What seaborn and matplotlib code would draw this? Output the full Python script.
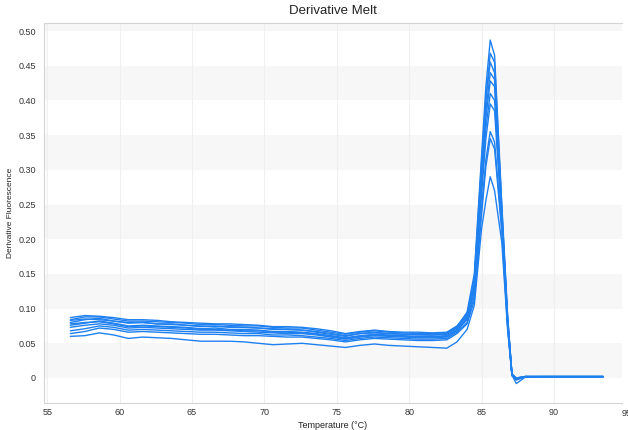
import matplotlib
matplotlib.use("Agg")
import matplotlib.pyplot as plt
import matplotlib.ticker as mticker
import seaborn as sns
import numpy as np
import pandas as pd

# ---- data ----
temps = [56.6, 57.6, 58.6, 59.6, 60.6, 61.6, 62.6, 63.6, 64.6, 65.6, 66.6, 67.6, 68.6,
         69.6, 70.6, 71.6, 72.6, 73.6, 74.6, 75.6, 76.6, 77.6, 78.6, 79.6, 80.6, 81.6,
         82.6, 83.3, 84.0, 84.5, 85.0, 85.3, 85.6, 85.9, 86.4, 86.8, 87.1, 87.4, 88.0,
         89.0, 90.0, 91.0, 92.0, 93.4]

curve_a = [.084, .088, .088, .085, .082, .082, .081, .080, .079, .077, .077, .076, .075,
           .075, .073, .072, .072, .069, .066, .063, .066, .068, .066, .065, .064, .064,
           .065, .074, .095, .150, .320, .420, .487, .465, .250, .090, .006, -.002, .002,
           .002, .002, .002, .002, .002]
curve_b = [.087, .090, .089, .087, .084, .084, .083, .081, .080, .079, .078, .078, .077,
           .076, .074, .074, .073, .071, .068, .064, .067, .069, .067, .066, .066, .065,
           .066, .075, .092, .140, .300, .400, .468, .455, .245, .088, .005, .000, .002,
           .002, .002, .002, .002, .002]
curve_c = [.080, .084, .086, .082, .079, .080, .078, .077, .076, .074, .075, .073, .073,
           .072, .070, .070, .069, .066, .063, .060, .064, .065, .064, .063, .062, .062,
           .063, .072, .090, .145, .310, .405, .455, .440, .240, .085, .004, -.003, .002,
           .002, .002, .002, .002, .002]
curve_d = [.083, .085, .084, .082, .080, .080, .078, .078, .076, .075, .074, .074, .073,
           .072, .071, .070, .069, .067, .064, .061, .064, .066, .064, .063, .063, .062,
           .064, .073, .088, .135, .290, .385, .440, .430, .235, .083, .006, .000, .002,
           .002, .002, .002, .002, .002]
curve_e = [.076, .079, .082, .079, .075, .076, .075, .074, .073, .071, .072, .070, .070,
           .069, .067, .067, .066, .064, .061, .058, .061, .063, .062, .061, .060, .060,
           .061, .070, .086, .130, .285, .375, .428, .420, .232, .082, .004, -.008, .001,
           .002, .002, .002, .002, .002]
curve_f = [.073, .076, .078, .076, .072, .073, .072, .071, .070, .069, .069, .068, .067,
           .066, .065, .064, .064, .062, .059, .056, .059, .061, .060, .059, .058, .058,
           .059, .068, .085, .128, .275, .360, .410, .400, .228, .080, .005, -.001, .002,
           .002, .002, .002, .002, .002]
curve_g = [.078, .080, .081, .078, .074, .075, .074, .073, .072, .070, .070, .069, .068,
           .068, .066, .066, .065, .063, .060, .057, .060, .062, .061, .060, .059, .059,
           .060, .069, .084, .125, .265, .345, .395, .385, .225, .078, .003, .000, .002,
           .002, .002, .002, .002, .002]
curve_h = [.068, .071, .075, .073, .069, .070, .069, .068, .067, .066, .066, .065, .064,
           .064, .062, .062, .061, .059, .057, .054, .057, .059, .058, .057, .056, .056,
           .057, .066, .080, .118, .245, .315, .355, .340, .215, .075, .004, -.002, .002,
           .002, .002, .002, .002, .002]
curve_i = [.064, .067, .072, .070, .066, .067, .066, .065, .064, .063, .063, .062, .061,
           .061, .060, .059, .059, .057, .055, .052, .055, .057, .056, .055, .054, .054,
           .055, .064, .078, .112, .235, .305, .345, .330, .210, .073, .004, -.001, .002,
           .002, .002, .002, .002, .002]
curve_j = [.060, .061, .065, .062, .057, .059, .058, .057, .055, .053, .053, .053, .052,
           .050, .048, .049, .050, .048, .046, .044, .047, .049, .047, .046, .045, .044,
           .043, .052, .070, .105, .215, .256, .290, .270, .195, .070, .005, -.002, .002,
           .002, .002, .002, .002, .002]

curves = {"A": curve_a, "B": curve_b, "C": curve_c, "D": curve_d, "E": curve_e,
          "F": curve_f, "G": curve_g, "H": curve_h, "I": curve_i, "J": curve_j}

x_ticks = [55, 60, 65, 70, 75, 80, 85, 90]
y_ticks = [0, 0.05, 0.10, 0.15, 0.20, 0.25, 0.30, 0.35, 0.40, 0.45, 0.50]
y_tick_labels = ["0", "0.05", "0.10", "0.15", "0.20", "0.25", "0.30", "0.35",
                 "0.40", "0.45", "0.50"]

rows = []
for name, vals in curves.items():
    for t, v in zip(temps, vals):
        rows.append({"curve": name, "temp": t, "value": v})
df = pd.DataFrame(rows)

# ---- plot ----
sns.set_theme(style="white")
plt.rcParams["font.family"] = ["Liberation Sans", "DejaVu Sans"]

fig = plt.figure(figsize=(6.28, 4.30), dpi=100)
ax = fig.add_axes([44 / 628, 27.3 / 430, 578 / 628, 380 / 430])

ymin, ymax = -0.0356, 0.512
xmin, xmax = 54.78, 94.7
ax.set_xlim(xmin, xmax)
ax.set_ylim(ymin, ymax)

# alternating bands
band_starts = [0.0, 0.10, 0.20, 0.30, 0.40, 0.50]
for b in band_starts:
    ax.axhspan(b, min(b + 0.05, ymax), color="#f7f7f7", zorder=0, lw=0)

for xt in x_ticks:
    ax.axvline(xt, color="#efefef", lw=0.8, zorder=0.5)

sns.lineplot(data=df, x="temp", y="value", units="curve", estimator=None,
             color="#1f80f0", lw=1.0, ax=ax, legend=False, zorder=3, sort=False)

ax.set_xticks(x_ticks)
ax.set_xticklabels([str(v) for v in x_ticks])
ax.set_yticks(y_ticks)
ax.set_yticklabels(y_tick_labels)
ax.xaxis.set_minor_locator(mticker.MultipleLocator(1))
ax.yaxis.set_minor_locator(mticker.MultipleLocator(0.01))

ax.tick_params(axis="x", which="major", direction="in", length=5, color="#c8c8c8",
               width=0.8, labelsize=6.5, labelcolor="#333333", pad=4)
ax.tick_params(axis="x", which="minor", direction="in", length=5, color="#c8c8c8",
               width=0.8)
ax.tick_params(axis="y", which="major", direction="out", length=4, color="#c8c8c8",
               width=0.8, labelsize=6.5, labelcolor="#333333", pad=2)
ax.tick_params(axis="y", which="minor", direction="in", length=4, color="#c8c8c8",
               width=0.8)

# partially visible "95" label at the right edge, as in the reference
ax.text(95, -0.0356, "95", transform=ax.transData, fontsize=6.5, color="#333333",
        ha="center", va="top", clip_on=False)
ax.texts[-1].set_position((95, ymin - 0.0095))

for side in ["left", "bottom", "top"]:
    ax.spines[side].set_visible(True)
    ax.spines[side].set_color("#d4d4d4")
    ax.spines[side].set_linewidth(0.8)
ax.spines["right"].set_visible(False)

ax.set_title("Derivative Melt", fontsize=9.5, color="#222222", pad=6)
ax.set_xlabel("Temperature (°C)", fontsize=6.5, color="#222222", labelpad=3)
ax.set_ylabel("Derivative Fluorescence", fontsize=6, color="#222222", labelpad=3)

fig.savefig("out.png", dpi=100)
